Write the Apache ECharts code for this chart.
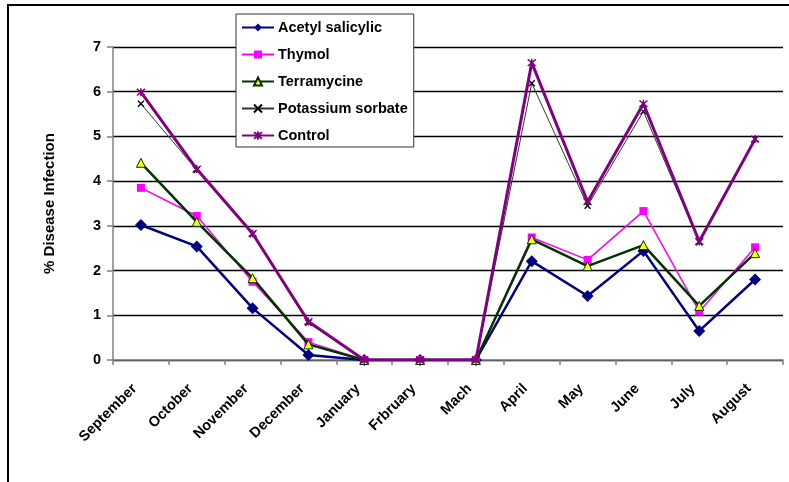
<!DOCTYPE html>
<html>
<head>
<meta charset="utf-8">
<script src="https://cdn.jsdelivr.net/npm/echarts@6/dist/echarts.min.js"></script>
<style>
  html, body { margin: 0; padding: 0; background: #fff; }
  #chart { width: 789px; height: 482px; }
</style>
</head>
<body>
<div id="chart"></div>
<script>
// Monthly disease infection (%) under each treatment
const months = ['September', 'October', 'November', 'December', 'January', 'Frbruary',
                'Mach', 'April', 'May', 'June', 'July', 'August'];
const acetylSalicylic = [3.02, 2.54, 1.16, 0.11, 0, 0, 0, 2.21, 1.43, 2.44, 0.65, 1.80];
const thymol          = [3.85, 3.22, 1.75, 0.40, 0, 0, 0, 2.74, 2.24, 3.33, 1.08, 2.52];
const terramycine     = [4.41, 3.09, 1.83, 0.35, 0, 0, 0, 2.70, 2.10, 2.57, 1.21, 2.39];
const potassiumSorbate= [5.73, 4.25, 2.81, 0.83, 0, 0, 0, 6.19, 3.45, 5.56, 2.63, 4.94];
const control         = [5.99, 4.27, 2.83, 0.86, 0, 0, 0, 6.65, 3.54, 5.73, 2.65, 4.94];
const yTicks = { min: 0, max: 7, step: 1 };

const font = 'Arial, "Liberation Sans", sans-serif';
const crossPath = 'path://M0,0L10,10M10,0L0,10';
const starPath = 'path://M0,0L10,10M10,0L0,10M5,-1L5,11';

const chart = echarts.init(document.getElementById('chart'), null, { renderer: 'canvas' });

chart.setOption({
  backgroundColor: '#ffffff',
  animation: false,
  graphic: [{
    type: 'rect',
    shape: { x: 8, y: 5, width: 900, height: 600 },
    style: { fill: 'none', stroke: '#000', lineWidth: 2 },
    silent: true, z: 0
  }],
  grid: { left: 113, right: 6, top: 47, bottom: 122, containLabel: false },
  legend: {
    orient: 'vertical',
    left: 236, top: 14,
    padding: [6, 6, 4, 5],
    itemWidth: 32, itemHeight: 10, itemGap: 12,
    backgroundColor: '#ffffff',
    borderColor: '#333', borderWidth: 1,
    textStyle: { fontFamily: font, fontWeight: 'bold', fontSize: 14.5, color: '#000', padding: [0, 0, 0, -1] },
    data: ['Acetyl salicylic', 'Thymol', 'Terramycine', 'Potassium sorbate', 'Control'],
    z: 10
  },
  xAxis: {
    type: 'category',
    data: months,
    boundaryGap: true,
    axisLine: { lineStyle: { color: '#808080', width: 1.5 } },
    axisTick: { show: true, length: 5, interval: 0, lineStyle: { color: '#808080', width: 1.5 } },
    axisLabel: {
      interval: 0, rotate: 45, margin: 20, padding: [0, 9, 0, 0],
      fontFamily: font, fontWeight: 'bold', fontSize: 14.5, color: '#000'
    },
    splitLine: { show: false }
  },
  yAxis: {
    type: 'value',
    min: yTicks.min, max: yTicks.max, interval: yTicks.step,
    name: '% Disease Infection',
    nameLocation: 'middle',
    nameGap: 56,
    nameRotate: 90,
    nameTextStyle: { fontFamily: font, fontWeight: 'bold', fontSize: 15, color: '#000' },
    axisLine: { show: true, lineStyle: { color: '#808080', width: 1.5 } },
    axisTick: { show: true, length: 6, inside: false, lineStyle: { color: '#808080', width: 1.5 } },
    axisLabel: { margin: 12, fontFamily: font, fontWeight: 'bold', fontSize: 14.5, color: '#000' },
    splitLine: { show: true, lineStyle: { color: '#000', width: 1.4 } }
  },
  series: [
    {
      name: 'Acetyl salicylic', type: 'line', data: acetylSalicylic,
      symbol: 'diamond', symbolSize: 12,
      lineStyle: { color: '#000080', width: 2.5 },
      itemStyle: { color: '#000080' }, z: 2
    },
    {
      name: 'Thymol', type: 'line', data: thymol,
      symbol: 'rect', symbolSize: 8,
      lineStyle: { color: '#ff00ff', width: 1.5 },
      itemStyle: { color: '#ff00ff' }, z: 3
    },
    {
      name: 'Terramycine', type: 'line', data: terramycine,
      symbol: 'triangle', symbolSize: 9,
      lineStyle: { color: '#003300', width: 2.5 },
      itemStyle: { color: '#ffff00', borderColor: '#003300', borderWidth: 1 }, z: 4
    },
    {
      name: 'Potassium sorbate', type: 'line', data: potassiumSorbate,
      symbol: crossPath, symbolSize: 6,
      lineStyle: { color: '#333333', width: 1 },
      itemStyle: { color: 'none', borderColor: '#000', borderWidth: 1.3 }, z: 5
    },
    {
      name: 'Control', type: 'line', data: control,
      symbol: starPath, symbolSize: 8,
      lineStyle: { color: '#800080', width: 3 },
      itemStyle: { color: 'none', borderColor: '#800080', borderWidth: 1.5 }, z: 6
    }
  ]
});
</script>
</body>
</html>
